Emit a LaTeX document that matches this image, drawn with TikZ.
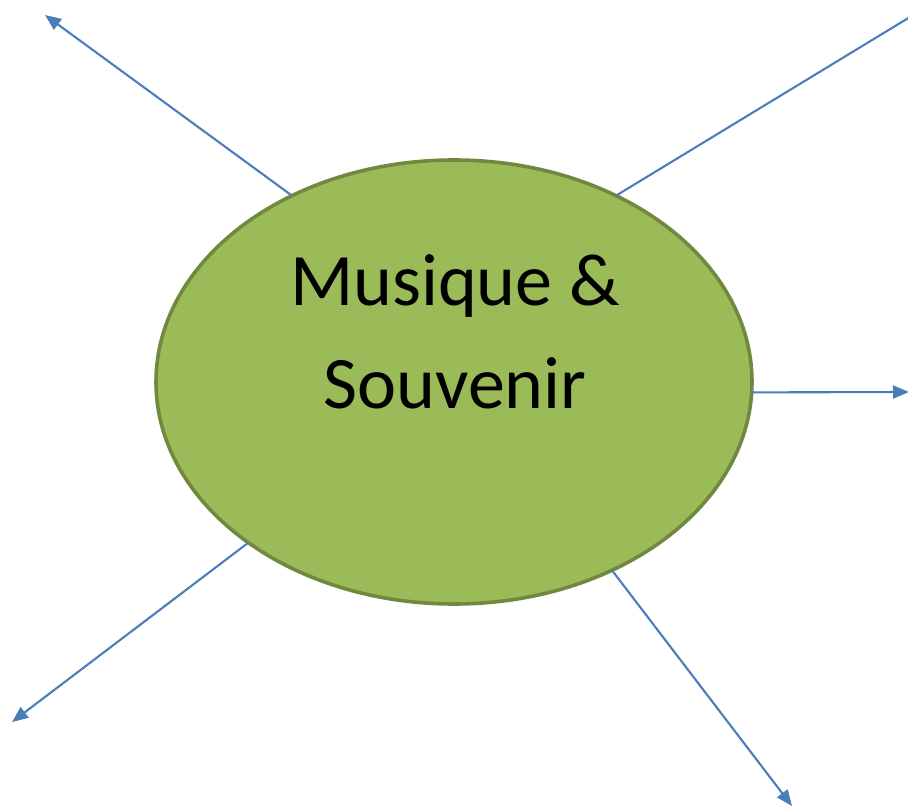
\documentclass[tikz,border=0pt]{standalone}
\usepackage{fontspec}
\setmainfont{Carlito}
\usetikzlibrary{shapes.geometric,arrows.meta}
\definecolor{olgreen}{HTML}{9BBB59}
\definecolor{olborder}{HTML}{71893F}
\definecolor{olblue}{HTML}{4A7EBB}
\begin{document}
\begin{tikzpicture}[x=1pt,y=-1pt,
  conn/.style={draw=olblue,line width=2.1pt},
  arr/.style={conn,-{Triangle[length=16pt,width=13pt]}},
  bubble/.style={ellipse,draw=olborder,fill=olgreen,line width=3.6pt,
    minimum width=596pt,minimum height=444pt,inner sep=0pt,outer sep=0pt},
  label/.style={align=center,font=\fontsize{74}{103}\selectfont,text=black,inner sep=0pt}]
\useasboundingbox (0,0) rectangle (908,808);
\node[bubble] (e) at (454,382) {};
\node[label,anchor=base] (t) at (455,408) {Musique \&\\Souvenir};
\coordinate (a1) at (45,15);
\coordinate (a2) at (910,17);
\coordinate (a3) at (909,392);
\coordinate (a4) at (12,722);
\coordinate (a5) at (792,806);
\draw[arr] (e.131.3) -- (a1);
\draw[conn] (e.49.5) -- (a2);
\draw[arr] (e.-2.5) -- (a3);
\draw[arr] (e.218.6) -- (a4);
\draw[arr] (e.-50.1) -- (a5);
\end{tikzpicture}
\end{document}
